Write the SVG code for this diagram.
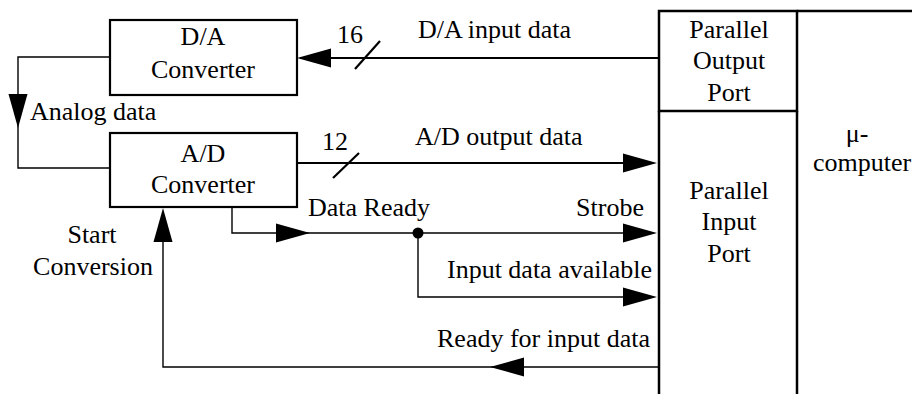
<svg xmlns="http://www.w3.org/2000/svg" xmlns:xlink="http://www.w3.org/1999/xlink" width="912" height="394" viewBox="0 0 912 394">
<style>
text { font-family: "Liberation Serif", "Times New Roman", serif; font-size: 26px; fill: #000; }
.box { fill: #fff; stroke: #000; stroke-width: 2.2; }
.port { fill: none; stroke: #000; stroke-width: 2.5; }
.bus { fill: none; stroke: #000; stroke-width: 2.2; }
.sig { fill: none; stroke: #000; stroke-width: 1.4; }
.c { text-anchor: middle; }
.e { text-anchor: end; }
</style>
<defs>
<path id="ah" d="M0,0 L-34,-9.5 L-34,9.5 Z" fill="#000"/>
</defs>
<g id="connectors">
<line class="bus" x1="659" y1="58" x2="300" y2="58"/>
<use xlink:href="#ah" transform="translate(297,58) rotate(180)"/>
<line class="bus" x1="355" y1="69" x2="380" y2="41"/>
<line class="bus" x1="297" y1="163" x2="640" y2="163"/>
<use xlink:href="#ah" transform="translate(657,163)"/>
<line class="bus" x1="333" y1="178" x2="359" y2="153"/>
<polyline class="sig" points="110,57 18,57 18,168 110,168"/>
<use xlink:href="#ah" transform="translate(18,128) rotate(90)"/>
<polyline class="sig" points="232,207 232,233 418,233"/>
<use xlink:href="#ah" transform="translate(310,233)"/>
<line class="sig" x1="418" y1="233" x2="640" y2="233"/>
<use xlink:href="#ah" transform="translate(657,233)"/>
<circle cx="418" cy="233" r="5.5" fill="#000"/>
<polyline class="sig" points="418,233 418,297 640,297"/>
<use xlink:href="#ah" transform="translate(657,297)"/>
<polyline class="sig" points="659,367 163,367 163,220"/>
<use xlink:href="#ah" transform="translate(490,367) rotate(180)"/>
<use xlink:href="#ah" transform="translate(163,208) rotate(-90)"/>
</g>
<g id="da">
<rect class="box" x="110" y="20" width="187" height="75"/>
<text class="c" x="203" y="45">D/A</text>
<text class="c" x="203" y="78">Converter</text>
</g>
<g id="ad">
<rect class="box" x="110" y="133" width="187" height="74"/>
<text class="c" x="203" y="162">A/D</text>
<text class="c" x="203" y="193">Converter</text>
</g>
<g id="outport">
<rect class="port" x="659" y="11" width="138" height="100"/>
<text class="c" x="729" y="38">Parallel</text>
<text class="c" x="729" y="69">Output</text>
<text class="c" x="729" y="101">Port</text>
</g>
<g id="inport">
<polyline class="port" points="659,111 659,400"/>
<polyline class="port" points="797,111 797,400"/>
<text class="c" x="729" y="199">Parallel</text>
<text class="c" x="729" y="230">Input</text>
<text class="c" x="729" y="262">Port</text>
</g>
<g id="computer">
<line class="port" x1="797" y1="11" x2="914" y2="11"/>
<text class="c" x="857" y="142">μ-</text>
<text class="c" x="862" y="171">computer</text>
</g>
<g id="labels">
<text x="30" y="120">Analog data</text>
<text x="337" y="43">16</text>
<text x="418" y="38">D/A input data</text>
<text x="322" y="150">12</text>
<text x="415" y="145">A/D output data</text>
<text x="308" y="216">Data Ready</text>
<text class="e" x="644" y="216">Strobe</text>
<text class="e" x="652" y="278">Input data available</text>
<text class="e" x="650" y="347">Ready for input data</text>
<text class="c" x="92" y="243">Start</text>
<text class="c" x="93" y="275">Conversion</text>
</g>
</svg>
